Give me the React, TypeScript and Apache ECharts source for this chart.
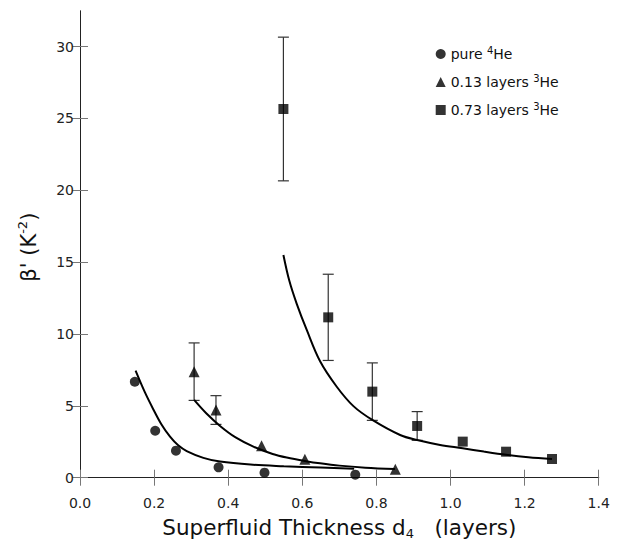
import React, { useEffect, useRef } from "react";
import * as echarts from "echarts";

const FONT = "DejaVu Sans, Verdana, sans-serif";

const xTicks = [0, 0.2, 0.4, 0.6, 0.8, 1.0, 1.2, 1.4];
const yTicks = [0, 5, 10, 15, 20, 25, 30];

const seriesNames = ["pure 4He", "0.13 layers 3He", "0.73 layers 3He"];

// pure 4He
const pureX = [0.148, 0.203, 0.259, 0.374, 0.498, 0.743];
const pureY = [6.68, 3.27, 1.88, 0.72, 0.35, 0.21];

// 0.13 layers 3He
const lowX = [0.308, 0.367, 0.49, 0.607, 0.851];
const lowY = [7.38, 4.71, 2.23, 1.28, 0.58];
const lowErr = [2.0, 1.0, 0, 0, 0];

// 0.73 layers 3He
const highX = [0.549, 0.67, 0.789, 0.91, 1.033, 1.15, 1.274];
const highY = [25.66, 11.16, 5.99, 3.6, 2.51, 1.81, 1.3];
const highErr = [5.0, 3.0, 2.0, 1.0, 0, 0, 0];

// fit curves
const fitPureX = [0.15, 0.175, 0.198, 0.22, 0.243, 0.265, 0.288, 0.333, 0.378, 0.46, 0.55, 0.65, 0.74];
const fitPureY = [7.45, 5.95, 4.75, 3.7, 2.85, 2.25, 1.85, 1.38, 1.12, 0.91, 0.8, 0.71, 0.63];

const fitLowX = [0.308, 0.34, 0.378, 0.42, 0.468, 0.52, 0.558, 0.61, 0.648, 0.7, 0.77, 0.85];
const fitLowY = [5.41, 4.5, 3.6, 2.8, 2.16, 1.65, 1.4, 1.15, 1.0, 0.84, 0.7, 0.6];

const fitHighX = [0.549, 0.565, 0.585, 0.612, 0.648, 0.693, 0.738, 0.789, 0.864, 0.91, 0.972, 1.033, 1.09, 1.15, 1.21, 1.274];
const fitHighY = [15.5, 13.7, 12.1, 10.28, 8.1, 6.33, 4.98, 4.02, 2.97, 2.62, 2.28, 2.05, 1.82, 1.6, 1.43, 1.3];

const zip = (xs: number[], ys: number[]) => xs.map((x, i) => [x, ys[i]]);

export default function App() {
  const ref = useRef<HTMLDivElement>(null);
  useEffect(() => {
    if (!ref.current) return;
    const chart = echarts.init(ref.current, null, { renderer: "svg" });

    const errData: number[][] = [];
    lowX.forEach((x, i) => {
      if (lowErr[i] > 0) errData.push([x, lowY[i] - lowErr[i], lowY[i] + lowErr[i]]);
    });
    highX.forEach((x, i) => {
      if (highErr[i] > 0) errData.push([x, highY[i] - highErr[i], highY[i] + highErr[i]]);
    });

    const tickStyle = { show: true, inside: true, length: 8, lineStyle: { color: "#777", width: 1 } };
    const axisLineStyle = { show: true, lineStyle: { color: "#222", width: 1 } };

    const fitLine = (xs: number[], ys: number[]) => ({
      type: "line",
      data: zip(xs, ys),
      smooth: 0.35,
      showSymbol: false,
      symbol: "none",
      lineStyle: { color: "#000", width: 2 },
      z: 3,
      silent: true,
    });

    chart.setOption({
      animation: false,
      backgroundColor: "#fff",
      textStyle: { fontFamily: FONT },
      grid: { left: 80, right: 24.3, top: 11, bottom: 62.7, containLabel: false },
      legend: {
        orient: "vertical",
        left: 430.7,
        top: 40,
        itemWidth: 10,
        itemHeight: 10,
        itemGap: 12,
        data: [
          { name: seriesNames[0], icon: "circle" },
          { name: seriesNames[1], icon: "triangle" },
          { name: seriesNames[2], icon: "rect" },
        ],
        formatter: (name: string) => {
          const m = name.match(/^(.*) (\d)He$/);
          if (!m) return name;
          return `{n|${m[1]} }{sup|${m[2]}}{n|He}`;
        },
        textStyle: {
          fontFamily: FONT,
          fontSize: 14,
          color: "#111",
          rich: {
            n: { fontFamily: FONT, fontSize: 14, color: "#111", lineHeight: 18 },
            sup: { fontFamily: FONT, fontSize: 10, color: "#111", verticalAlign: "top", lineHeight: 10 },
          },
        },
      },
      xAxis: [
        {
          type: "value",
          min: 0,
          max: 1.4,
          interval: 0.2,
          name: "{n|Superfluid Thickness d}{sub|4}{n|   (layers)}",
          nameLocation: "middle",
          nameGap: 31,
          nameTextStyle: {
            fontFamily: FONT,
            fontSize: 21.5,
            color: "#111",
            rich: {
              n: { fontFamily: FONT, fontSize: 21.5, color: "#111", lineHeight: 26 },
              sub: { fontFamily: FONT, fontSize: 13, color: "#111", verticalAlign: "bottom", lineHeight: 14 },
            },
          },
          axisLine: axisLineStyle,
          axisTick: tickStyle,
          splitLine: { show: false },
          axisLabel: {
            fontFamily: FONT,
            fontSize: 14,
            color: "#222",
            margin: 13,
            formatter: (v: number) => v.toFixed(1),
            customValues: xTicks,
          },
        },
        {
          type: "value",
          position: "top",
          min: 0,
          max: 1.4,
          interval: 0.2,
          axisLine: axisLineStyle,
          axisTick: tickStyle,
          axisLabel: { show: false },
          splitLine: { show: false },
        },
      ],
      yAxis: [
        {
          type: "value",
          min: -0.39,
          max: 32.48,
          name: "{n|β' (K}{sup|-2}{n|)}",
          nameLocation: "middle",
          nameGap: 38,
          nameRotate: 90,
          nameTextStyle: {
            fontFamily: FONT,
            fontSize: 21,
            color: "#111",
            rich: {
              n: { fontFamily: FONT, fontSize: 21, color: "#111", lineHeight: 26 },
              sup: { fontFamily: FONT, fontSize: 13, color: "#111", verticalAlign: "top", lineHeight: 14 },
            },
          },
          axisLine: axisLineStyle,
          axisTick: { ...tickStyle, customValues: yTicks },
          splitLine: { show: false },
          axisLabel: {
            fontFamily: FONT,
            fontSize: 14,
            color: "#222",
            margin: 6,
            customValues: yTicks,
          },
        },
        {
          type: "value",
          position: "right",
          min: -0.39,
          max: 32.48,
          axisLine: axisLineStyle,
          axisTick: { ...tickStyle, customValues: yTicks },
          axisLabel: { show: false },
          splitLine: { show: false },
        },
      ],
      series: [
        {
          type: "custom",
          name: "errorbars",
          data: errData,
          encode: { x: 0, y: [1, 2] },
          z: 2,
          silent: true,
          renderItem: (params: any, api: any) => {
            const x = api.value(0);
            const lo = api.value(1);
            const hi = api.value(2);
            const p1 = api.coord([x, lo]);
            const p2 = api.coord([x, hi]);
            const w = 5.5;
            const style = { stroke: "#333", lineWidth: 1.2 };
            return {
              type: "group",
              children: [
                { type: "line", shape: { x1: p1[0], y1: p1[1], x2: p2[0], y2: p2[1] }, style },
                { type: "line", shape: { x1: p1[0] - w, y1: p1[1], x2: p1[0] + w, y2: p1[1] }, style },
                { type: "line", shape: { x1: p2[0] - w, y1: p2[1], x2: p2[0] + w, y2: p2[1] }, style },
              ],
            };
          },
        },
        fitLine(fitPureX, fitPureY),
        fitLine(fitLowX, fitLowY),
        fitLine(fitHighX, fitHighY),
        {
          type: "scatter",
          name: seriesNames[0],
          data: zip(pureX, pureY),
          symbol: "circle",
          symbolSize: 10,
          itemStyle: { color: "#000" },
          z: 4,
        },
        {
          type: "scatter",
          name: seriesNames[1],
          data: zip(lowX, lowY),
          symbol: "triangle",
          symbolSize: 11,
          itemStyle: { color: "#000" },
          z: 4,
        },
        {
          type: "scatter",
          name: seriesNames[2],
          data: zip(highX, highY),
          symbol: "rect",
          symbolSize: 10,
          itemStyle: { color: "#000" },
          z: 4,
        },
      ],
    });
    return () => chart.dispose();
  }, []);
  return <div ref={ref} style={{ width: 623, height: 546, position: "absolute", left: 0, top: 0 }} />;
}
